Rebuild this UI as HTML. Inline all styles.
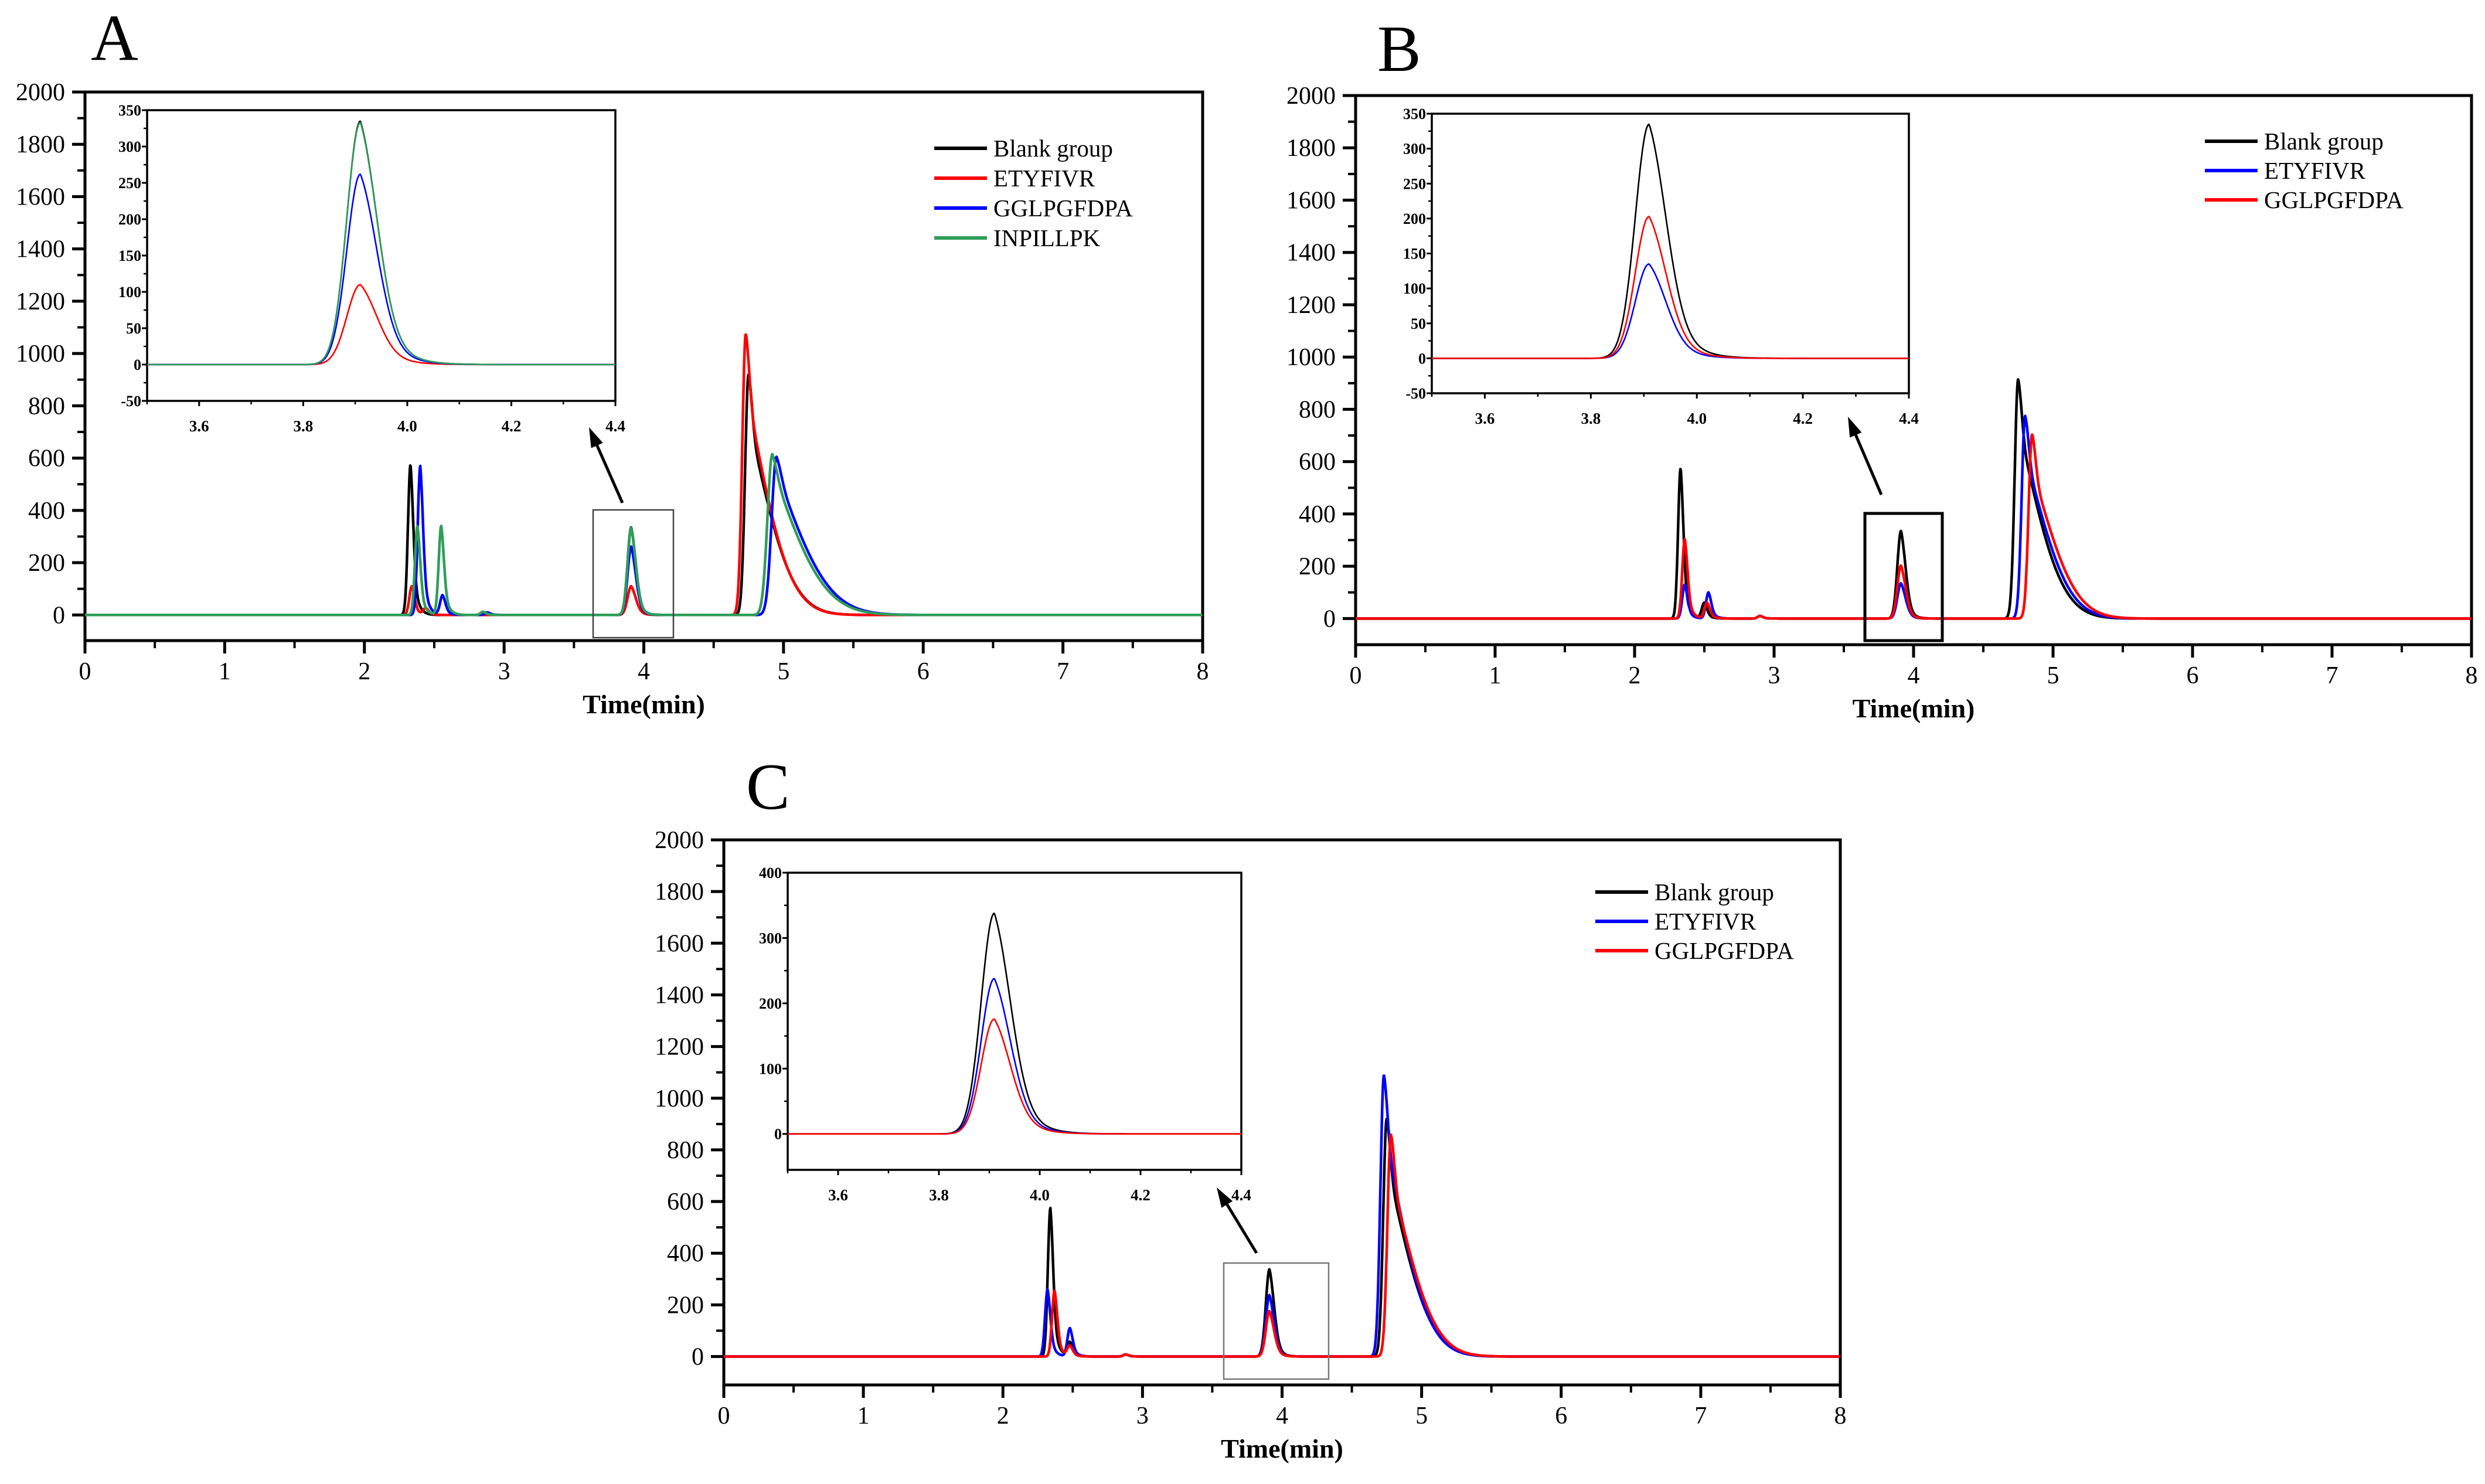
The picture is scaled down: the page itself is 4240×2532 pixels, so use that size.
<!DOCTYPE html>
<html><head><meta charset="utf-8"><style>
html,body{margin:0;padding:0;background:#fff;}
svg{display:block;font-family:"Liberation Serif",serif;}
</style></head><body>
<svg id="fig" width="4240" height="2532" viewBox="0 0 4240 2532" xmlns="http://www.w3.org/2000/svg"></svg>
<script>
// ---------- data (time min, height) ----------
const xTicksMain = [0,1,2,3,4,5,6,7,8];
const yTicksMain = [0,200,400,600,800,1000,1200,1400,1600,1800,2000];
const xTicksInset = [3.6,3.8,4.0,4.2,4.4];
const yTicksInsetAB = [-50,0,50,100,150,200,250,300,350];
const yTicksInsetC = [0,100,200,300,400];

// Panel A
const A_black_t = [2.33, 2.85, 3.91, 4.75];
const A_black_h = [575, 12, 335, 920];
const A_red_t = [2.34, 2.44, 3.91, 4.73];
const A_red_h = [110, 25, 110, 1075];
const A_blue_t = [2.40, 2.56, 2.88, 3.91, 4.95];
const A_blue_h = [570, 75, 10, 262, 605];
const A_green_t = [2.38, 2.55, 2.85, 3.91, 4.92];
const A_green_h = [340, 340, 12, 333, 615];
// Panel B
const B_black_t = [2.33, 2.50, 2.90, 3.91, 4.75];
const B_black_h = [575, 60, 10, 335, 915];
const B_blue_t = [2.36, 2.53, 2.90, 3.91, 4.80];
const B_blue_h = [130, 100, 10, 135, 775];
const B_red_t = [2.36, 2.52, 2.90, 3.91, 4.85];
const B_red_h = [305, 60, 10, 203, 705];
// Panel C
const C_black_t = [2.34, 2.48, 2.88, 3.91, 4.75];
const C_black_h = [575, 55, 8, 338, 920];
const C_blue_t = [2.32, 2.48, 2.88, 3.91, 4.73];
const C_blue_h = [260, 110, 8, 238, 1090];
const C_red_t = [2.37, 2.48, 2.88, 3.91, 4.78];
const C_red_h = [255, 40, 8, 176, 860];

const legendA = ["Blank group","ETYFIVR","GGLPGFDPA","INPILLPK"];
const legendB = ["Blank group","ETYFIVR","GGLPGFDPA"];
const legendC = ["Blank group","ETYFIVR","GGLPGFDPA"];

// ---------- helpers ----------
const NS = "http://www.w3.org/2000/svg";
const svg = document.getElementById('fig');
function mk(tag, attrs, parent){
  const e = document.createElementNS(NS, tag);
  for (const k in attrs) e.setAttribute(k, attrs[k]);
  (parent||svg).appendChild(e);
  return e;
}
function shapeFor(t0){
  // [left sigma, tail tau, tail fraction, tail cutoff sigma, right gauss sigma]
  if (t0 > 4.5) return t0 > 4.88 ? [0.035, 0.4, 0.9, 0.32, 0.035] : [0.025, 0.35, 0.8, 0.25, 0.025];
  if (t0 > 3.5) return [0.026, 0.05, 0.35, 0.12, 0.034];
  return [0.018, 0.04, 0.4, 0.1, 0.02];
}
function signal(t, ts, hs){
  let v=0;
  for (let i=0;i<ts.length;i++){
    const [s,tau,fr,sr,sg] = shapeFor(ts[i]);
    const d=t-ts[i];
    if (d<=0) v+=hs[i]*Math.exp(-d*d/(2*s*s));
    else v+=hs[i]*((1-fr)*Math.exp(-d*d/(2*sg*sg)) + fr*Math.exp(-d/tau)*Math.exp(-d*d/(2*sr*sr)));
  }
  return v;
}
function axes(o){
  const X = v => o.x0 + (v-o.xmin)/(o.xmax-o.xmin)*(o.x1-o.x0);
  const Y = v => o.y1 - (v-o.ymin)/(o.ymax-o.ymin)*(o.y1-o.y0);
  return {X,Y};
}
let clipId = 0;
function drawSeries(g, ax, o, ts, hs, color, width, name, step){
  let d = "";
  for (let t=o.xmin; t<=o.xmax+1e-9; t+=step){
    const v = signal(t, ts, hs);
    d += (d?"L":"M") + ax.X(t).toFixed(1) + " " + ax.Y(v).toFixed(1);
  }
  const p = mk('path', {d, fill:'none', stroke:color, 'stroke-width':width, 'stroke-linejoin':'round'}, g);
  
  
}
function frame(g, o, lw){
  mk('rect', {x:o.x0, y:o.y0, width:o.x1-o.x0, height:o.y1-o.y0, fill:'#fff', stroke:'#000', 'stroke-width':lw}, g);
}

function mainPanel(P){
  const g = mk('g', {});
  
  
  const o = P.main;
  const ax = axes(o);
  frame(g, o, 5);
  clipId++;
  const cp = mk('clipPath', {id:'c'+clipId}, g);
  mk('rect', {x:o.x0, y:o.y0, width:o.x1-o.x0, height:o.y1-o.y0}, cp);
  const sg = mk('g', {'clip-path':'url(#c'+clipId+')'}, g);
  P.series.forEach(s => drawSeries(sg, ax, o, s.t, s.h, s.c, 4.5, P.name+'-'+s.n+'-line', 0.003));
  yTicksMain.forEach(v=>{
    const y = ax.Y(v);
    mk('line', {x1:o.x0-22, x2:o.x0, y1:y, y2:y, stroke:'#000','stroke-width':5}, g);
    const tx = mk('text', {x:o.x0-34, y:y+14, 'font-size':42, 'text-anchor':'end'}, g);
    tx.textContent = v;
    
    
  });
  for (let v=100; v<2000; v+=200){
    const y = ax.Y(v);
    mk('line', {x1:o.x0-13, x2:o.x0, y1:y, y2:y, stroke:'#000','stroke-width':4}, g);
  }
  xTicksMain.forEach(v=>{
    const x = ax.X(v);
    mk('line', {x1:x, x2:x, y1:o.y1, y2:o.y1+22, stroke:'#000','stroke-width':5}, g);
    const tx = mk('text', {x:x, y:o.y1+66, 'font-size':42, 'text-anchor':'middle'}, g);
    tx.textContent = v;
    
    
  });
  for (let v=0.5; v<8; v+=1){
    const x = ax.X(v);
    mk('line', {x1:x, x2:x, y1:o.y1, y2:o.y1+13, stroke:'#000','stroke-width':4}, g);
  }
  const tt = mk('text', {x:(o.x0+o.x1)/2, y:o.y1+124, 'font-size':46, 'font-weight':'bold', 'text-anchor':'middle'}, g);
  tt.textContent = 'Time(min)';
  
  
  const pl = mk('text', {x:P.letter[0], y:P.letter[1], 'font-size':112}, g);
  pl.textContent = P.letter[2];
  
  
  const bx = mk('rect', {x:P.box[0], y:P.box[1], width:P.box[2]-P.box[0], height:P.box[3]-P.box[1], fill:'none', stroke:P.box[4], 'stroke-width':P.box[5]}, g);
  
  
  const [ax1,ay1,ax2,ay2] = P.arrow;
  const ang = Math.atan2(ay2-ay1, ax2-ax1);
  const hl = 34, hw = 11;
  const bxp = ax2 - hl*Math.cos(ang), byp = ay2 - hl*Math.sin(ang);
  mk('line', {x1:ax1,y1:ay1,x2:bxp,y2:byp,stroke:'#000','stroke-width':5}, g);
  const ar = mk('polygon', {points:`${ax2},${ay2} ${bxp+hw*Math.sin(ang)},${byp-hw*Math.cos(ang)} ${bxp-hw*Math.sin(ang)},${byp+hw*Math.cos(ang)}`, fill:'#000'}, g);
  
  
  P.legend.forEach((lab,i)=>{
    const y = P.leg[1] + i*P.leg[3];
    const ln = mk('line', {x1:P.leg[0], x2:P.leg[0]+90, y1:y, y2:y, stroke:P.series[i].c, 'stroke-width':6}, g);
    
    
    const tx = mk('text', {x:P.leg[0]+101, y:y+14, 'font-size':41}, g);
    tx.textContent = lab;
    
    
  });
  const io = P.inset;
  const iax = axes(io);
  const ig = mk('g', {}, g);
  
  
  frame(ig, io, 3.5);
  clipId++;
  const cp2 = mk('clipPath', {id:'c'+clipId}, ig);
  mk('rect', {x:io.x0, y:io.y0, width:io.x1-io.x0, height:io.y1-io.y0}, cp2);
  const isg = mk('g', {'clip-path':'url(#c'+clipId+')'}, ig);
  P.series.forEach(s => drawSeries(isg, iax, io, s.t, s.h, s.c, 2.6, P.name+'-inset-'+s.n+'-line', 0.0015));
  P.iy.forEach(v=>{
    const y = iax.Y(v);
    mk('line', {x1:io.x0-9, x2:io.x0, y1:y, y2:y, stroke:'#000','stroke-width':3}, ig);
    const tx = mk('text', {x:io.x0-10, y:y+9, 'font-size':26, 'font-weight':'bold', 'text-anchor':'end'}, ig);
    tx.textContent = v;
    
    
  });
  const st = P.iy[1]-P.iy[0];
  for (let v=P.iy[0]+st/2; v<P.iy[P.iy.length-1]; v+=st){
    const y = iax.Y(v);
    mk('line', {x1:io.x0-6, x2:io.x0, y1:y, y2:y, stroke:'#000','stroke-width':2.5}, ig);
  }
  xTicksInset.forEach(v=>{
    const x = iax.X(v);
    mk('line', {x1:x, x2:x, y1:io.y1, y2:io.y1+9, stroke:'#000','stroke-width':3}, ig);
    const tx = mk('text', {x:x, y:io.y1+52, 'font-size':27, 'font-weight':'bold', 'text-anchor':'middle'}, ig);
    tx.textContent = v.toFixed(1);
    
    
  });
  for (let v=3.5; v<4.4; v+=0.2){
    const x = iax.X(v);
    mk('line', {x1:x, x2:x, y1:io.y1, y2:io.y1+6, stroke:'#000','stroke-width':2.5}, ig);
  }
}

const K='#000', R='#ff0000', Bl='#0000ff', G='#2e9e58';
mainPanel({
  name:'panel-a',
  main:{x0:145,x1:2052,y0:157,y1:1093,xmin:0,xmax:8,ymin:-98,ymax:2000},
  inset:{x0:251,x1:1050,y0:188,y1:684,xmin:3.5,xmax:4.4,ymin:-50,ymax:350},
  iy:yTicksInsetAB,
  series:[{t:A_black_t,h:A_black_h,c:K,n:'blank'},{t:A_red_t,h:A_red_h,c:R,n:'etyfivr'},{t:A_blue_t,h:A_blue_h,c:Bl,n:'gglpgfdpa'},{t:A_green_t,h:A_green_h,c:G,n:'inpillpk'}],
  legend:legendA, leg:[1594,253,0,51],
  letter:[155,102,'A'],
  box:[1012,870,1149,1088,'#444',2.5],
  arrow:[1062,858,1005,729]
});
mainPanel({
  name:'panel-b',
  main:{x0:2313,x1:4217,y0:163,y1:1100,xmin:0,xmax:8,ymin:-100,ymax:2000},
  inset:{x0:2443,x1:3257,y0:194,y1:671,xmin:3.5,xmax:4.4,ymin:-50,ymax:350},
  iy:yTicksInsetAB,
  series:[{t:B_black_t,h:B_black_h,c:K,n:'blank'},{t:B_blue_t,h:B_blue_h,c:Bl,n:'etyfivr'},{t:B_red_t,h:B_red_h,c:R,n:'gglpgfdpa'}],
  legend:legendB, leg:[3762,241,0,50],
  letter:[2350,121,'B'],
  box:[3182,876,3314,1093,'#000',5],
  arrow:[3210,844,3153,711]
});
mainPanel({
  name:'panel-c',
  main:{x0:1235,x1:3140,y0:1433,y1:2363,xmin:0,xmax:8,ymin:-110,ymax:2000},
  inset:{x0:1344,x1:2118,y0:1489,y1:1996,xmin:3.5,xmax:4.4,ymin:-55,ymax:400},
  iy:yTicksInsetC,
  series:[{t:C_black_t,h:C_black_h,c:K,n:'blank'},{t:C_blue_t,h:C_blue_h,c:Bl,n:'etyfivr'},{t:C_red_t,h:C_red_h,c:R,n:'gglpgfdpa'}],
  legend:legendC, leg:[2722,1522,0,50],
  letter:[1273,1380,'C'],
  box:[2088,2155,2267,2353,'#777',2.5],
  arrow:[2144,2138,2076,2026]
});
</script>
</body></html>
